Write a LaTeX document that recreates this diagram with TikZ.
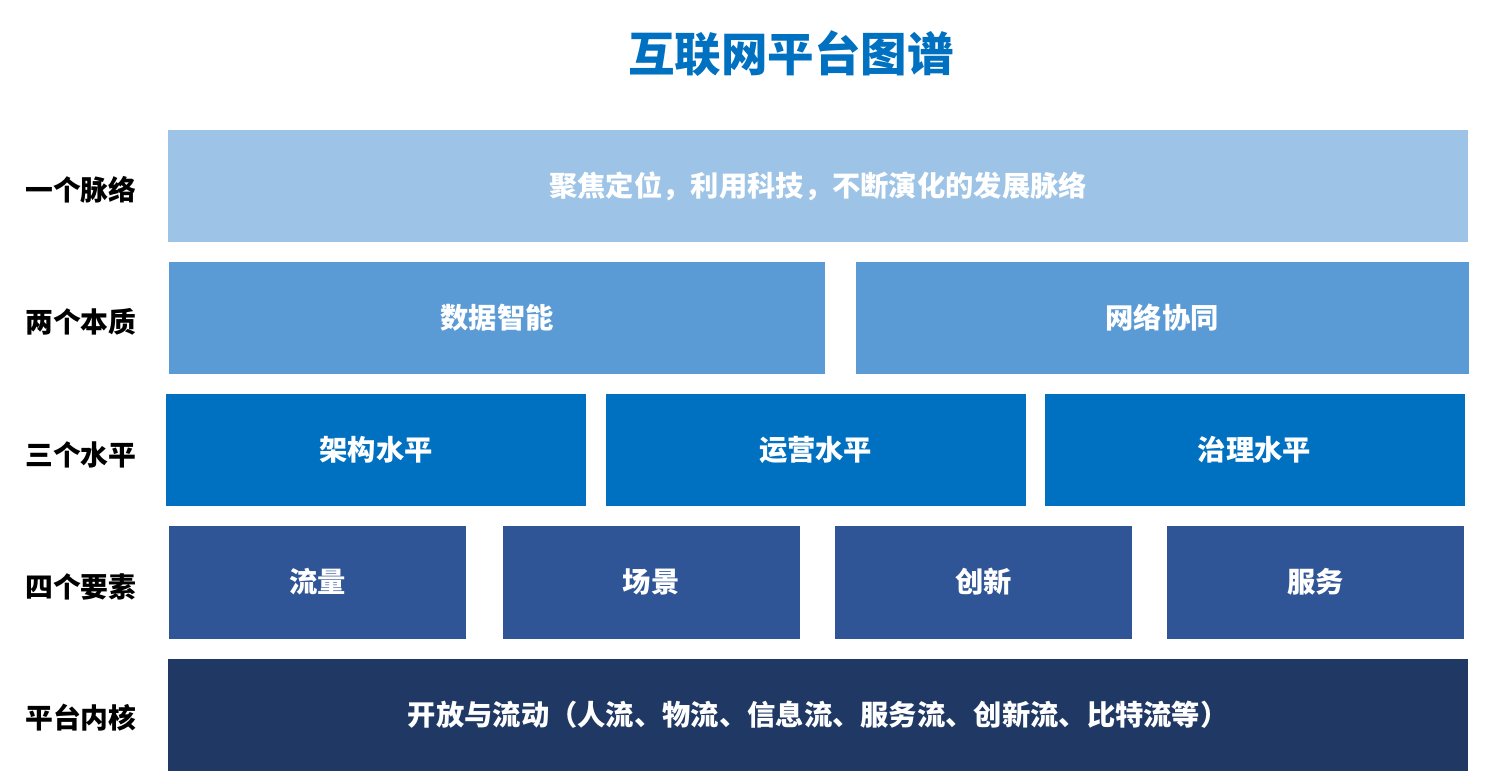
\documentclass[tikz,border=0pt]{standalone}
\usepackage{fontspec}
\newfontfamily\cjk{Noto Sans CJK SC}
\usepackage{xcolor}
\usepackage{tikz}
\usetikzlibrary{positioning}

\definecolor{lvone}{HTML}{9DC3E6}
\definecolor{lvtwo}{HTML}{5B9BD5}
\definecolor{lvthree}{HTML}{0070C0}
\definecolor{lvfour}{HTML}{2F5597}
\definecolor{lvfive}{HTML}{203864}

\begin{document}
\begin{tikzpicture}[
    x=1pt, y=-1pt,
    box/.style={rectangle, inner sep=0pt, minimum height=112pt, anchor=west, text=white, font=\cjk\bfseries\fontsize{28.3}{34}\selectfont},
    lbl/.style={font=\cjk\bfseries\fontsize{27.8}{32}\selectfont, text=black},
    title/.style={font=\cjk\bfseries\fontsize{46.5}{54}\selectfont, text=lvthree}
]
    \useasboundingbox (0,0) rectangle (1507,775);

    % Title
    \node[title] (title) at (791,54) {互联网平台图谱};

    % Left labels
    \node[lbl] (lone) at (81,190) {一个脉络};
    \node[lbl] (ltwo) at (81,322) {两个本质};
    \node[lbl] (lthree) at (81,455) {三个水平};
    \node[lbl] (lfour) at (81,587) {四个要素};
    \node[lbl] (lfive) at (81,718) {平台内核};

    % One context
    \node[box, fill=lvone, minimum width=1300pt] (context) at (168,186) {聚焦定位，利用科技，不断演化的发展脉络};

    % Two essences
    \node[box, fill=lvtwo, minimum width=656pt] (data) at (169,318) {数据智能};
    \node[box, fill=lvtwo, minimum width=613pt, right=30pt of data] (network) {网络协同};

    % Three levels
    \node[box, fill=lvthree, minimum width=420pt] (arch) at (166,450) {架构水平};
    \node[box, fill=lvthree, minimum width=420pt, right=19pt of arch] (oper) {运营水平};
    \node[box, fill=lvthree, minimum width=420pt, right=18.5pt of oper] (gov) {治理水平};

    % Four elements
    \node[box, fill=lvfour, minimum width=297pt, minimum height=113pt] (flow) at (169,582) {流量};
    \node[box, fill=lvfour, minimum width=297pt, minimum height=113pt, right=36pt of flow] (scene) {场景};
    \node[box, fill=lvfour, minimum width=297pt, minimum height=113pt, right=35pt of scene] (innov) {创新};
    \node[box, fill=lvfour, minimum width=297pt, minimum height=113pt, right=35pt of innov] (serv) {服务};

    % Platform core
    \node[box, fill=lvfive, minimum width=1300pt] (core) at (168,715) {开放与流动（人流、物流、信息流、服务流、创新流、比特流等）};
\end{tikzpicture}
\end{document}
